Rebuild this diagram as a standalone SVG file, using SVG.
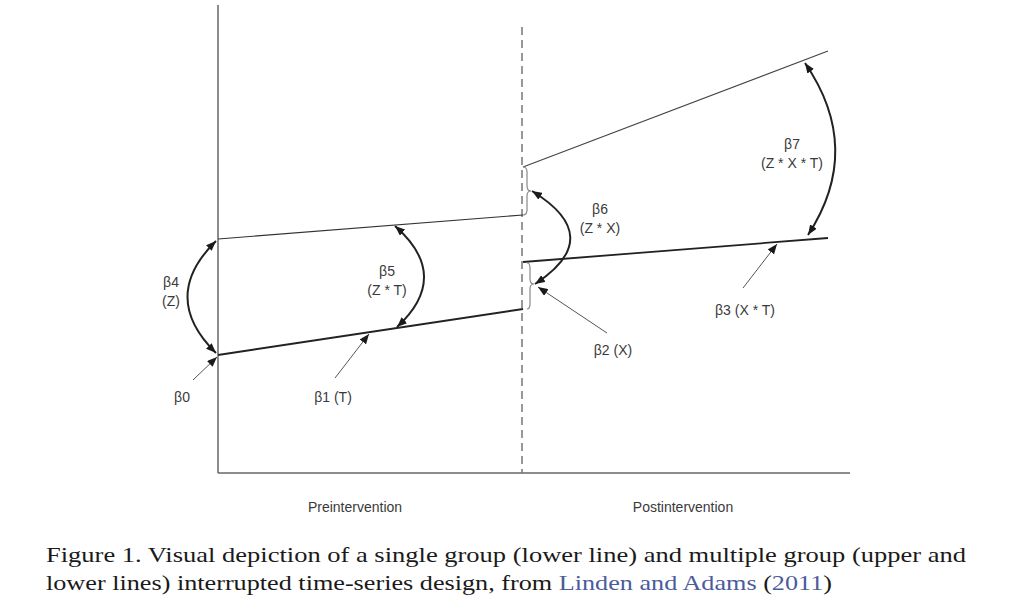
<svg xmlns="http://www.w3.org/2000/svg" width="1011" height="601" viewBox="0 0 1011 601">
<style>
.lbl{font-family:"Liberation Sans",Arial,sans-serif;font-size:14px;fill:#3a3a3a;text-anchor:middle}
.cap{font-family:"Liberation Serif","Times New Roman",serif;font-size:22px;fill:#1a1a1a}
.blue{fill:#4a5c9c}
.axis{stroke:#666;stroke-width:1.5;fill:none}
.arc{stroke:#222;stroke-width:2;fill:none}
.ptr{stroke:#555;stroke-width:1;fill:none}
.brace{stroke:#888;stroke-width:1.2;fill:none}
</style>
<defs>
<marker id="ah" viewBox="0 0 10 8" refX="10" refY="4" markerWidth="10" markerHeight="8" markerUnits="userSpaceOnUse" orient="auto-start-reverse">
<path d="M0,0 L10,4 L0,8 z" fill="#1a1a1a"/>
</marker>
</defs>
<rect width="1011" height="601" fill="#fff"/>
<g id="axes">
<line class="axis" x1="218" y1="5" x2="218" y2="473"/>
<line class="axis" x1="218" y1="473" x2="850" y2="473"/>
<line x1="522" y1="27" x2="522" y2="473" stroke="#777" stroke-width="1.5" stroke-dasharray="8,5"/>
</g>
<g id="lines">
<line x1="218" y1="355" x2="523" y2="309" stroke="#222" stroke-width="2"/>
<line x1="218" y1="239" x2="523" y2="215" stroke="#333" stroke-width="1.2"/>
<line x1="523" y1="262" x2="828" y2="238" stroke="#222" stroke-width="1.8"/>
<line x1="523" y1="167" x2="828" y2="51" stroke="#444" stroke-width="1.1"/>
</g>
<g id="braces">
<path class="brace" d="M523,167 Q527,167 527,172 L527,186 Q527,191 531,191 Q527,191 527,196 L527,210 Q527,215 523,215"/>
<path class="brace" d="M527,263 Q530,263 530,268 L530,279 Q530,284 534,284 Q530,284 530,289 L530,304 Q530,309 527,309"/>
</g>
<g id="connectors">
<path class="arc" d="M216,241 Q159,297 216,353" marker-start="url(#ah)" marker-end="url(#ah)"/>
<path class="arc" d="M395,226 Q452,276 397,327" marker-start="url(#ah)" marker-end="url(#ah)"/>
<path class="arc" d="M532,191 Q607,237 535,284" marker-start="url(#ah)" marker-end="url(#ah)"/>
<path class="arc" d="M805,63 Q864,149 808,235" marker-start="url(#ah)" marker-end="url(#ah)"/>
<line class="ptr" x1="193" y1="380" x2="217" y2="357" marker-end="url(#ah)"/>
<line class="ptr" x1="335" y1="378" x2="369" y2="334" marker-end="url(#ah)"/>
<line class="ptr" x1="607" y1="333" x2="538" y2="287" marker-end="url(#ah)"/>
<line class="ptr" x1="743" y1="288" x2="777" y2="244" marker-end="url(#ah)"/>
</g>
<g id="labels">
<text class="lbl" x="171" y="287">β4</text>
<text class="lbl" x="171" y="306">(Z)</text>
<text class="lbl" x="387" y="276">β5</text>
<text class="lbl" x="387" y="295">(Z * T)</text>
<text class="lbl" x="182" y="402">β0</text>
<text class="lbl" x="333" y="402">β1 (T)</text>
<text class="lbl" x="600" y="214">β6</text>
<text class="lbl" x="600" y="233">(Z * X)</text>
<text class="lbl" x="613" y="355">β2 (X)</text>
<text class="lbl" x="792" y="149">β7</text>
<text class="lbl" x="792" y="168">(Z * X * T)</text>
<text class="lbl" x="745" y="315">β3 (X * T)</text>
<text class="lbl" x="355" y="512">Preintervention</text>
<text class="lbl" x="683" y="512">Postintervention</text>
</g>
<g id="caption">
<text class="cap" x="46" y="562" textLength="920" lengthAdjust="spacingAndGlyphs">Figure 1. Visual depiction of a single group (lower line) and multiple group (upper and</text>
<text class="cap" x="46" y="590" textLength="786" lengthAdjust="spacingAndGlyphs">lower lines) interrupted time-series design, from <tspan class="blue">Linden and Adams</tspan> (<tspan class="blue">2011</tspan>)</text>
</g>
</svg>
